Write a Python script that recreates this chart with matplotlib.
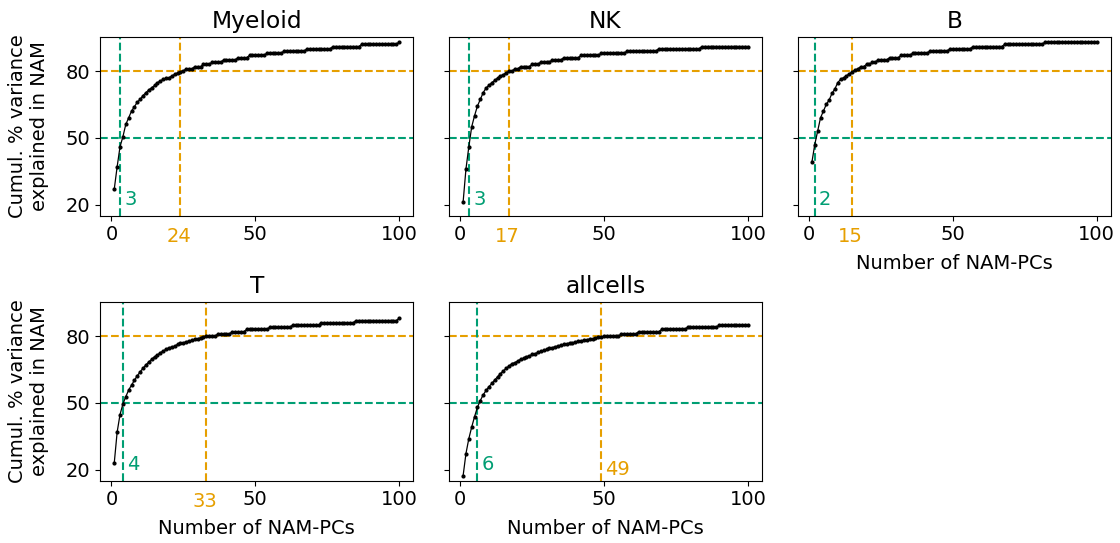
import matplotlib
matplotlib.use("Agg")
import matplotlib.pyplot as plt
import numpy as np

plt.rcParams['font.family'] = ['DejaVu Sans']
plt.rcParams['font.size'] = 14

titles = ["Myeloid", "NK", "B", "T", "allcells"]

myeloid = [27, 37, 46, 50.5, 56, 59, 62, 64, 66, 67.3,
           69, 70.3, 71.5, 72.5, 73.5, 74.8, 75.5, 76.3, 76.7, 77,
           77.8, 78.5, 79.2, 79.7, 80, 81, 81, 81, 82, 82,
           82, 83, 83, 83, 84, 84, 84, 84, 85, 85,
           85, 85, 85, 86, 86, 86, 86, 87, 87, 87,
           87, 87, 87, 88, 88, 88, 88, 88, 88, 89,
           89, 89, 89, 89, 89, 89, 89, 90, 90, 90,
           90, 90, 90, 90, 90, 90, 91, 91, 91, 91,
           91, 91, 91, 91, 91, 91, 92, 92, 92, 92,
           92, 92, 92, 92, 92, 92, 92, 92, 92, 93]

nk = [21, 36, 46, 55, 60, 64.3, 67.3, 70.3, 72.4, 73.6,
      74.8, 75.8, 76.9, 77.8, 78.4, 79.3, 79.8, 80, 81, 81,
      82, 82, 82, 82, 83, 83, 83, 84, 84, 84,
      84, 85, 85, 85, 85, 86, 86, 86, 86, 86,
      86, 87, 87, 87, 87, 87, 87, 87, 88, 88,
      88, 88, 88, 88, 88, 88, 88, 89, 89, 89,
      89, 89, 89, 89, 89, 89, 89, 89, 90, 90,
      90, 90, 90, 90, 90, 90, 90, 90, 90, 90,
      90, 90, 90, 91, 91, 91, 91, 91, 91, 91,
      91, 91, 91, 91, 91, 91, 91, 91, 91, 91]

b_cells = [39, 47, 53, 59, 62, 65, 67, 70, 72, 74.8,
           76.3, 77, 77.8, 78.8, 79.6, 80.5, 81, 82, 82, 83,
           83, 84, 84, 85, 85, 85, 85, 86, 86, 86,
           86, 87, 87, 87, 87, 88, 88, 88, 88, 88,
           88, 89, 89, 89, 89, 89, 89, 89, 90, 90,
           90, 90, 90, 90, 90, 90, 91, 91, 91, 91,
           91, 91, 91, 91, 91, 91, 91, 92, 92, 92,
           92, 92, 92, 92, 92, 92, 92, 92, 92, 92,
           92, 93, 93, 93, 93, 93, 93, 93, 93, 93,
           93, 93, 93, 93, 93, 93, 93, 93, 93, 93]

t_cells = [23.1, 36.9, 44.8, 49.5, 52.8, 55.8, 58, 60.2, 62.2, 64,
           65.6, 67.1, 68.4, 69.6, 70.8, 71.5, 72.6, 73.3, 74.1, 74.8,
           75.1, 75.5, 76.3, 76.7, 77, 77.5, 77.8, 78.1, 78.5, 78.8,
           79.3, 79.6, 79.9, 80, 80, 80, 81, 81, 81, 81,
           81, 82, 82, 82, 82, 82, 83, 83, 83, 83,
           83, 83, 83, 83, 84, 84, 84, 84, 84, 84,
           84, 84, 85, 85, 85, 85, 85, 85, 85, 85,
           85, 85, 86, 86, 86, 86, 86, 86, 86, 86,
           86, 86, 86, 86, 87, 87, 87, 87, 87, 87,
           87, 87, 87, 87, 87, 87, 87, 87, 87, 88]

allcells = [17.2, 27.3, 34, 39.2, 43.9, 48.1, 51.1, 53.7, 55.6, 57.3,
            58.8, 60.3, 61.8, 63.2, 64.4, 65.6, 66.6, 67.7, 68.1, 68.9,
            69.6, 70.1, 70.8, 71.1, 71.8, 72.1, 72.7, 73.2, 73.6, 74.1,
            74.5, 74.8, 75.3, 75.5, 76, 76.3, 76.6, 76.9, 77, 77.3,
            77.8, 77.9, 78.2, 78.4, 78.7, 78.8, 79.1, 79.4, 79.7, 80,
            80, 80, 80, 80, 80, 81, 81, 81, 81, 81,
            81, 82, 82, 82, 82, 82, 82, 82, 82, 83,
            83, 83, 83, 83, 83, 83, 83, 83, 84, 84,
            84, 84, 84, 84, 84, 84, 84, 84, 84, 85,
            85, 85, 85, 85, 85, 85, 85, 85, 85, 85]

series = [myeloid, nk, b_cells, t_cells, allcells]
thr50 = [3, 3, 2, 4, 6]
thr80 = [24, 17, 15, 33, 49]

GREEN = '#009E73'
ORANGE = '#E69F00'

fig, axes = plt.subplots(2, 3, figsize=(11.2, 5.43), dpi=100, sharey=True)
fig.subplots_adjust(left=0.0893, right=0.992, top=0.9324, bottom=0.1147,
                    wspace=0.113, hspace=0.482)
axes = axes.ravel()
axes[5].remove()

for i, (ax, title, vals, t50, t80) in enumerate(zip(axes, titles, series, thr50, thr80)):
    x = np.arange(1, len(vals) + 1)
    ax.axhline(50, color=GREEN, ls='--', lw=1.5)
    ax.axhline(80, color=ORANGE, ls='--', lw=1.5)
    ax.axvline(t50, color=GREEN, ls='--', lw=1.5)
    ax.axvline(t80, color=ORANGE, ls='--', lw=1.5)
    ax.plot(x, vals, color='black', lw=0.9, marker='o', ms=2)
    ax.set_title(title)
    ax.set_xticks([0, 50, 100])
    ax.set_yticks([20, 50, 80])
    ax.set_xlim(-3.95, 104.95)
    ax.text(t50 + 1.5, 20, str(t50), color=GREEN, ha='left', va='baseline')
    if title == 'allcells':
        ax.text(t80 + 1.5, 17.8, str(t80), color=ORANGE, ha='left', va='baseline')
    else:
        ax.text(t80 - 0.5, 3.2, str(t80), color=ORANGE, ha='center', va='baseline',
                clip_on=False)

axes[0].set_ylim(15.1, 95.4)
for idx in (0, 3):
    axes[idx].set_ylabel('Cumul. % variance\nexplained in NAM', labelpad=12)
for idx in (2, 3, 4):
    axes[idx].set_xlabel('Number of NAM-PCs', labelpad=7)

fig.savefig('out.png', dpi=100)
